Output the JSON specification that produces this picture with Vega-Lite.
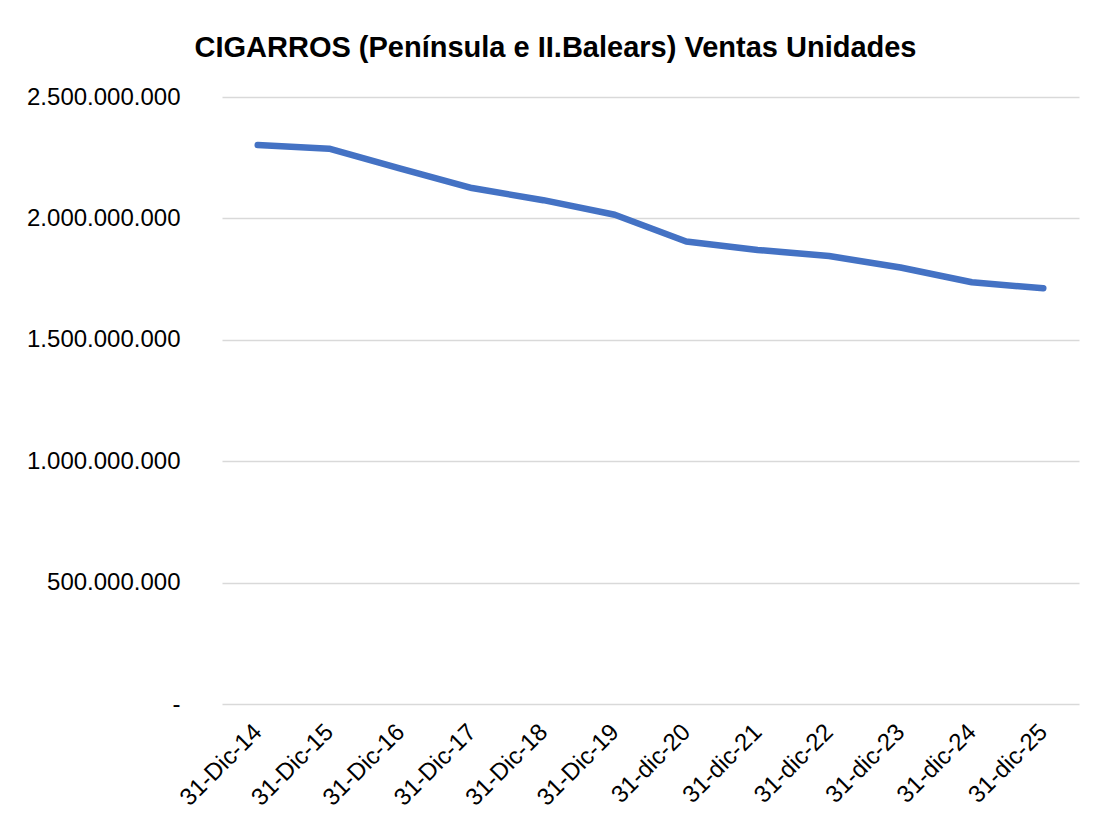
{
  "$schema": "https://vega.github.io/schema/vega-lite/v6.json",
  "autosize": {"type": "none"},
  "width": 857,
  "height": 607,
  "padding": {"left": 222, "top": 97, "right": 16, "bottom": 116},
  "background": "white",
  "title": {
    "text": "CIGARROS (Península e II.Balears) Ventas Unidades",
    "font": "Liberation Sans",
    "fontSize": 29,
    "fontWeight": "bold",
    "color": "#000000",
    "anchor": "middle",
    "frame": "group",
    "dx": -95,
    "offset": 22
  },
  "data": {
    "values": [
      {"fecha": "31-Dic-14", "ventas": 2302000000},
      {"fecha": "31-Dic-15", "ventas": 2287000000},
      {"fecha": "31-Dic-16", "ventas": 2205000000},
      {"fecha": "31-Dic-17", "ventas": 2125000000},
      {"fecha": "31-Dic-18", "ventas": 2075000000},
      {"fecha": "31-Dic-19", "ventas": 2015000000},
      {"fecha": "31-dic-20", "ventas": 1905000000},
      {"fecha": "31-dic-21", "ventas": 1870000000},
      {"fecha": "31-dic-22", "ventas": 1845000000},
      {"fecha": "31-dic-23", "ventas": 1798000000},
      {"fecha": "31-dic-24", "ventas": 1737000000},
      {"fecha": "31-dic-25", "ventas": 1712000000}
    ]
  },
  "mark": {"type": "line", "color": "#4472C4", "strokeWidth": 6.5, "strokeCap": "round", "strokeJoin": "round"},
  "encoding": {
    "x": {
      "field": "fecha",
      "type": "nominal",
      "sort": null,
      "scale": {"type": "point", "padding": 0.5},
      "axis": {
        "title": null,
        "labelAngle": -45,
        "labelAlign": "right",
        "labelBaseline": "middle",
        "labelFont": "Liberation Sans",
        "labelFontSize": 24,
        "labelColor": "#000000",
        "labelPadding": 24,
        "ticks": false,
        "domain": false,
        "grid": false
      }
    },
    "y": {
      "field": "ventas",
      "type": "quantitative",
      "scale": {"domain": [0, 2500000000], "nice": false, "zero": true},
      "axis": {
        "title": null,
        "values": [0, 500000000, 1000000000, 1500000000, 2000000000, 2500000000],
        "labelExpr": "datum.value == 0 ? '-' : replace(format(datum.value, ','), regexp(',', 'g'), '.')",
        "labelFont": "Liberation Sans",
        "labelFontSize": 24,
        "labelColor": "#000000",
        "labelPadding": 42,
        "ticks": false,
        "domain": false,
        "grid": true,
        "gridColor": "#D9D9D9",
        "gridWidth": 1.5
      }
    }
  },
  "config": {"view": {"stroke": null}}
}
